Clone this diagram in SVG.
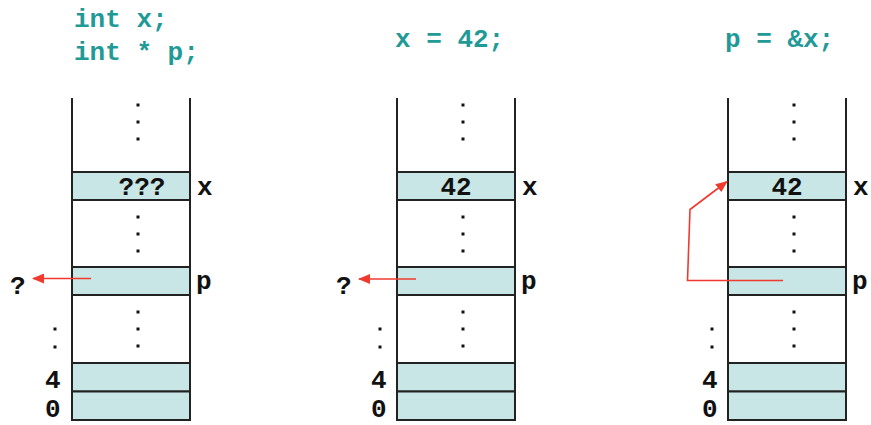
<svg xmlns="http://www.w3.org/2000/svg" width="871" height="425" viewBox="0 0 871 425">
<defs>
<style>
.code{font-family:"Liberation Mono","Courier New",monospace;font-weight:bold;font-size:26px;fill:#1f9a97}
.t{font-family:"Liberation Mono","Courier New",monospace;font-weight:bold;font-size:26px;fill:#111}
.cell{fill:#c9e6e6;stroke:#222;stroke-width:2}
.wall{stroke:#222;stroke-width:2;fill:none}
.dot{fill:#111}
.ptr{stroke:#f03a2e;stroke-width:1.6;fill:none}
</style>
<marker id="ah" markerWidth="12" markerHeight="10" refX="11" refY="5" orient="auto" markerUnits="userSpaceOnUse">
<path d="M0,0 L12,5 L0,10 Z" fill="#f03a2e"/>
</marker>
<g id="dots3"><rect x="-1.5" y="-1.5" width="3" height="3" class="dot"/><rect x="-1.5" y="15.5" width="3" height="3" class="dot"/><rect x="-1.5" y="32.5" width="3" height="3" class="dot"/></g>
<g id="dots2"><rect x="-1.5" y="-1.5" width="3" height="3" class="dot"/><rect x="-1.5" y="16.5" width="3" height="3" class="dot"/></g>
</defs>
<rect width="871" height="425" fill="#fff"/>
<g id="code">
<text class="code" x="74" y="27">int x;</text>
<text class="code" x="74" y="60">int * p;</text>
<text class="code" x="395" y="47">x = 42;</text>
<text class="code" x="725" y="47">p = &amp;x;</text>
</g>
<g id="stack1">
<line class="wall" x1="72" y1="98" x2="72" y2="420"/>
<line class="wall" x1="190" y1="98" x2="190" y2="420"/>
<use href="#dots3" x="138" y="105"/>
<rect class="cell" x="72" y="172" width="118" height="28"/>
<text class="t" x="142" y="195" text-anchor="middle">???</text>
<text class="t" x="197" y="195">x</text>
<use href="#dots3" x="138" y="217"/>
<rect class="cell" x="72" y="267" width="118" height="28"/>
<text class="t" x="196" y="289">p</text>
<use href="#dots3" x="138" y="312"/>
<rect class="cell" x="72" y="363" width="118" height="28.5"/>
<rect class="cell" x="72" y="391.5" width="118" height="28.5"/>
<use href="#dots2" x="55" y="329"/>
<text class="t" x="45" y="388">4</text>
<text class="t" x="45" y="417">0</text>
<text class="t" x="10" y="294">?</text>
</g>
<g id="stack2">
<line class="wall" x1="397" y1="98" x2="397" y2="420"/>
<line class="wall" x1="515" y1="98" x2="515" y2="420"/>
<use href="#dots3" x="463" y="105"/>
<rect class="cell" x="397" y="172" width="118" height="28"/>
<text class="t" x="456" y="195" text-anchor="middle">42</text>
<text class="t" x="522" y="195">x</text>
<use href="#dots3" x="463" y="217"/>
<rect class="cell" x="397" y="267" width="118" height="28"/>
<text class="t" x="521" y="289">p</text>
<use href="#dots3" x="463" y="312"/>
<rect class="cell" x="397" y="363" width="118" height="28.5"/>
<rect class="cell" x="397" y="391.5" width="118" height="28.5"/>
<use href="#dots2" x="380" y="329"/>
<text class="t" x="371" y="388">4</text>
<text class="t" x="371" y="417">0</text>
<text class="t" x="336" y="294">?</text>
</g>
<g id="stack3">
<line class="wall" x1="728" y1="98" x2="728" y2="420"/>
<line class="wall" x1="846" y1="98" x2="846" y2="420"/>
<use href="#dots3" x="794" y="105"/>
<rect class="cell" x="728" y="172" width="118" height="28"/>
<text class="t" x="787" y="195" text-anchor="middle">42</text>
<text class="t" x="853" y="195">x</text>
<use href="#dots3" x="794" y="217"/>
<rect class="cell" x="728" y="267" width="118" height="28"/>
<text class="t" x="852" y="289">p</text>
<use href="#dots3" x="794" y="312"/>
<rect class="cell" x="728" y="363" width="118" height="28.5"/>
<rect class="cell" x="728" y="391.5" width="118" height="28.5"/>
<use href="#dots2" x="712" y="329"/>
<text class="t" x="702" y="388">4</text>
<text class="t" x="702" y="417">0</text>
</g>
<g id="connectors">
<line class="ptr" x1="91" y1="278.5" x2="33" y2="278.5" marker-end="url(#ah)"/>
<line class="ptr" x1="416" y1="279" x2="359" y2="279" marker-end="url(#ah)"/>
<polyline class="ptr" points="783,280.5 687.5,280.5 690,209.5 727,181.5" marker-end="url(#ah)"/>
</g>
</svg>
